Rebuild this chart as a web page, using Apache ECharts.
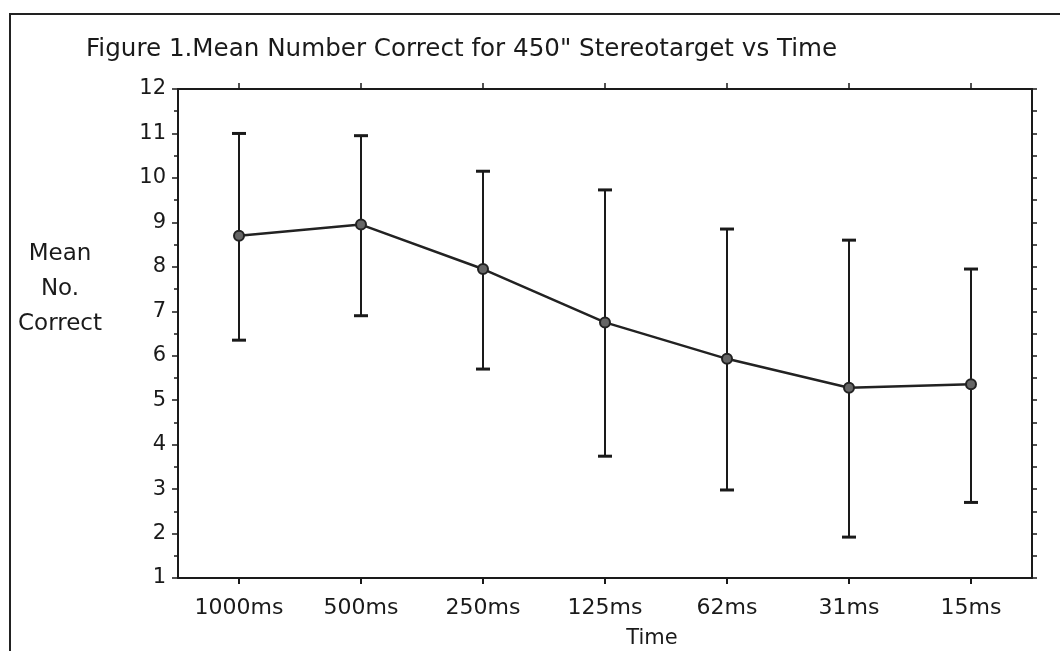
<!DOCTYPE html>
<html><head><meta charset="utf-8">
<script src="https://cdn.jsdelivr.net/npm/echarts@6/dist/echarts.min.js"></script>
<style>html,body{margin:0;padding:0;background:#fff}#c{width:1060px;height:651px}</style>
</head><body><div id="c"></div>
<script>
const categories = ['1000ms','500ms','250ms','125ms','62ms','31ms','15ms'];
const meanValues = [8.7, 8.95, 7.95, 6.75, 5.93, 5.28, 5.36];
const upperValues = [11.0, 10.95, 10.15, 9.73, 8.85, 8.6, 7.95];
const lowerValues = [6.35, 6.9, 5.7, 3.74, 2.98, 1.92, 2.7];
const yTicks = [1,2,3,4,5,6,7,8,9,10,11,12];

const font = 'DejaVu Sans';
const ink = '#1a1a1a';
const errData = categories.map((c,i)=>[i, lowerValues[i], upperValues[i]]);

const chart = echarts.init(document.getElementById('c'), null, {renderer:'canvas'});
chart.setOption({
  backgroundColor:'#fff',
  animation:false,
  title:{text:'Figure 1.Mean Number Correct for 450" Stereotarget vs Time', left:81, top:32,
    textStyle:{fontFamily:font, fontSize:24.6, fontWeight:'normal', color:ink}},
  graphic:[{type:'rect', shape:{x:10,y:14,width:1100,height:700}, style:{fill:null, stroke:'#222', lineWidth:2}, silent:true},
    {type:'text', x:60, y:237, style:{text:'Mean\nNo.\nCorrect', font:'23px "DejaVu Sans"', fill:ink, align:'center', verticalAlign:'top', lineHeight:35}, silent:true}],
  grid:{left:178, right:28, top:89, bottom:73, outerBoundsMode:'none', containLabel:false},
  xAxis:[{type:'category', data:categories, position:'bottom', boundaryGap:true,
      name:'Time', nameLocation:'middle', nameGap:50,
      nameTextStyle:{fontFamily:font, fontSize:21, color:ink, padding:[0,0,0,94]},
      axisLine:{lineStyle:{color:ink, width:2}},
      axisTick:{show:true, alignWithLabel:true, interval:0, length:6, lineStyle:{color:ink, width:2}},
      axisLabel:{fontFamily:font, fontSize:22, color:ink, margin:19, interval:0},
      splitLine:{show:false}},
    {type:'category', data:categories, position:'top', boundaryGap:true,
      axisLine:{show:true, lineStyle:{color:ink, width:2}},
      axisTick:{show:true, alignWithLabel:true, interval:0, length:6, lineStyle:{color:ink, width:1.5}},
      axisLabel:{show:false}, splitLine:{show:false}}],
  yAxis:[{type:'value', min:1, max:12, interval:1, position:'left',
      axisLine:{show:true, lineStyle:{color:ink, width:2}},
      axisTick:{show:true, length:6, lineStyle:{color:ink, width:1.5}},
      minorTick:{show:true, splitNumber:2, length:4, lineStyle:{color:ink, width:1.5}},
      axisLabel:{fontFamily:font, fontSize:21, color:ink, margin:12,
        formatter:v=> yTicks.includes(v)? String(v):''},
      splitLine:{show:false}},
    {type:'value', min:1, max:12, interval:0.5, position:'right',
      axisLine:{show:true, lineStyle:{color:ink, width:2}},
      axisTick:{show:true, length:5, lineStyle:{color:ink, width:1.5}},
      axisLabel:{show:false}, splitLine:{show:false}}],
  series:[
    {type:'custom', xAxisIndex:0, yAxisIndex:0, data:errData, z:2,
      renderItem:(params, api)=>{
        const x = api.value(0);
        const lo = api.coord([x, api.value(1)]);
        const hi = api.coord([x, api.value(2)]);
        const hw = 7;
        return {type:'group', children:[
          {type:'line', shape:{x1:lo[0],y1:lo[1],x2:hi[0],y2:hi[1]}, style:{stroke:ink, lineWidth:2}},
          {type:'line', shape:{x1:lo[0]-hw,y1:lo[1],x2:lo[0]+hw,y2:lo[1]}, style:{stroke:ink,lineWidth:3}},
          {type:'line', shape:{x1:hi[0]-hw,y1:hi[1],x2:hi[0]+hw,y2:hi[1]}, style:{stroke:ink,lineWidth:3}}
        ]};
      }},
    {type:'line', xAxisIndex:0, yAxisIndex:0, data:meanValues, z:3,
      symbol:'circle', symbolSize:10,
      lineStyle:{color:'#222', width:2.5},
      itemStyle:{color:'#666', borderColor:'#222', borderWidth:2}},
    {type:'line', xAxisIndex:1, yAxisIndex:1, data:[], silent:true}
  ]
});
</script></body></html>
